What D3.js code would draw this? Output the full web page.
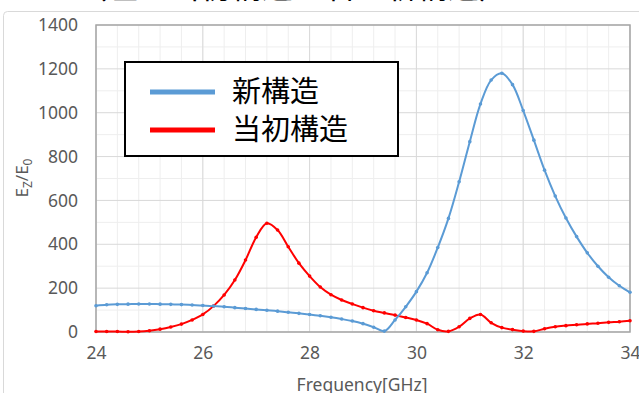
<!DOCTYPE html>
<html>
<head>
<meta charset="utf-8">
<script src="https://cdn.jsdelivr.net/npm/d3@7"></script>
<style>
  body { margin: 0; background: #fff; }
  svg { display: block; }
  text { font-family: "Noto Sans", "Noto Sans CJK JP", sans-serif; }
</style>
</head>
<body>
<svg id="chart" width="639" height="393"></svg>
<script>
// frequency points (GHz), 0.2 GHz step
const freqs = d3.range(0, 51).map(i => +(24 + i * 0.2).toFixed(1));

// 新構造 (blue)
const newValues = [120, 124, 126, 127, 128, 128, 127, 126, 125, 123,
  121, 118, 115, 111, 107, 103, 99, 95, 90, 85,
  80, 74, 67, 59, 50, 38, 22, 4, 55, 115,
  184, 270, 385, 518, 685, 868, 1040, 1149, 1180, 1128,
  1010, 875, 738, 620, 520, 435, 361, 300, 250, 211, 181];

// 当初構造 (red)
const oldValues = [2, 2, 2, 1, 2, 6, 13, 23, 36, 55,
  80, 118, 169, 237, 328, 432, 496, 465, 389, 314,
  255, 205, 170, 146, 128, 111, 97, 87, 77, 66,
  55, 38, 10, 3, 24, 62, 80, 42, 20, 11,
  4, 3, 15, 24, 29, 33, 37, 40, 44, 47, 51];

const xTicks = [24, 26, 28, 30, 32, 34];
const yTicks = [0, 200, 400, 600, 800, 1000, 1200, 1400];
const seriesNames = ["新構造", "当初構造"];
const seriesColors = ["#5b9bd5", "#ff0000"];
const titleText = "（左：当初構造、右：新構造）";

const svg = d3.select("#chart");

const x = d3.scaleLinear().domain([24, 34]).range([96, 630]);
const y = d3.scaleLinear().domain([0, 1400]).range([332, 25]);

// cut-off title at the very top
svg.append("text")
  .attr("x", 293)
  .attr("y", -2)
  .attr("text-anchor", "middle")
  .attr("font-size", 31)
  .attr("fill", "#000")
  .style("font-family", "'Noto Sans CJK JP', sans-serif")
  .text(titleText);

// chart area border
svg.append("rect")
  .attr("x", 3.5).attr("y", 11.5)
  .attr("width", 660).attr("height", 400)
  .attr("rx", 4)
  .attr("fill", "#fff")
  .attr("stroke", "#d9d9d9");

// minor gridlines
const grid = svg.append("g");
grid.selectAll("line.vminor")
  .data(d3.range(24, 34.001, 0.4))
  .enter().append("line")
  .attr("x1", d => x(d)).attr("x2", d => x(d))
  .attr("y1", y(0)).attr("y2", y(1400))
  .attr("stroke", "#eeeeee");
grid.selectAll("line.hminor")
  .data(d3.range(100, 1400, 200))
  .enter().append("line")
  .attr("x1", x(24)).attr("x2", x(34))
  .attr("y1", d => y(d)).attr("y2", d => y(d))
  .attr("stroke", "#eeeeee");

// major gridlines
grid.selectAll("line.vmajor")
  .data(xTicks)
  .enter().append("line")
  .attr("x1", d => x(d)).attr("x2", d => x(d))
  .attr("y1", y(0)).attr("y2", y(1400))
  .attr("stroke", "#d9d9d9");
grid.selectAll("line.hmajor")
  .data(yTicks)
  .enter().append("line")
  .attr("x1", x(24)).attr("x2", x(34))
  .attr("y1", d => y(d)).attr("y2", d => y(d))
  .attr("stroke", "#d9d9d9");

// plot frame
svg.append("rect")
  .attr("x", x(24)).attr("y", y(1400))
  .attr("width", x(34) - x(24)).attr("height", y(0) - y(1400))
  .attr("fill", "none")
  .attr("stroke", "#a6a6a6")
  .attr("stroke-width", 1.5);

// axes
const xAxis = svg.append("g")
  .attr("transform", `translate(0,${y(0)})`)
  .call(d3.axisBottom(x).tickValues(xTicks).tickSize(0).tickPadding(15).tickFormat(d3.format("d")));
const yAxis = svg.append("g")
  .attr("transform", `translate(${x(24)},0)`)
  .call(d3.axisLeft(y).tickValues(yTicks).tickSize(0).tickPadding(18).tickFormat(d3.format("d")));
[xAxis, yAxis].forEach(a => {
  a.select(".domain").remove();
  a.selectAll("text").attr("font-size", 17.5).attr("fill", "#595959")
    .style("font-family", "'Noto Sans', sans-serif");
});

// axis titles
svg.append("text")
  .attr("x", 362).attr("y", 391)
  .attr("text-anchor", "middle")
  .attr("font-size", 17.5)
  .attr("fill", "#595959")
  .text("Frequency[GHz]");

const yTitle = svg.append("text")
  .attr("transform", "translate(28,178) rotate(-90)")
  .attr("text-anchor", "middle")
  .attr("font-size", 17)
  .attr("fill", "#595959");
yTitle.append("tspan").text("E");
yTitle.append("tspan").attr("font-size", 12).attr("dy", 4).text("Z");
yTitle.append("tspan").attr("dy", -4).text("/E");
yTitle.append("tspan").attr("font-size", 12).attr("dy", 4).text("0");

// series (red below, blue on top)
const line = d3.line()
  .x(d => x(d[0]))
  .y(d => y(d[1]))
  .curve(d3.curveCatmullRom.alpha(0.5));

const series = [
  { name: seriesNames[1], color: seriesColors[1], values: oldValues },
  { name: seriesNames[0], color: seriesColors[0], values: newValues }
];

series.forEach(s => {
  const pts = freqs.map((f, i) => [f, s.values[i]]);
  const g = svg.append("g");
  g.append("path")
    .datum(pts)
    .attr("d", line)
    .attr("fill", "none")
    .attr("stroke", s.color)
    .attr("stroke-width", 2);
  g.selectAll("circle")
    .data(pts)
    .enter().append("circle")
    .attr("cx", d => x(d[0]))
    .attr("cy", d => y(d[1]))
    .attr("r", 1.8)
    .attr("fill", s.color);
});

// legend
const legend = svg.append("g");
legend.append("rect")
  .attr("x", 125).attr("y", 62)
  .attr("width", 273).attr("height", 94)
  .attr("fill", "#fff")
  .attr("stroke", "#000")
  .attr("stroke-width", 2);

const legendItems = [
  { name: seriesNames[0], color: seriesColors[0], cy: 92 },
  { name: seriesNames[1], color: seriesColors[1], cy: 130 }
];
legendItems.forEach(it => {
  legend.append("line")
    .attr("x1", 150).attr("x2", 215)
    .attr("y1", it.cy).attr("y2", it.cy)
    .attr("stroke", it.color)
    .attr("stroke-width", 5);
  legend.append("text")
    .attr("x", 232).attr("y", it.cy)
    .attr("dy", "0.36em")
    .attr("font-size", 29)
    .attr("fill", "#000")
    .style("font-family", "'Noto Sans CJK JP', sans-serif")
    .text(it.name);
});
</script>
</body>
</html>
